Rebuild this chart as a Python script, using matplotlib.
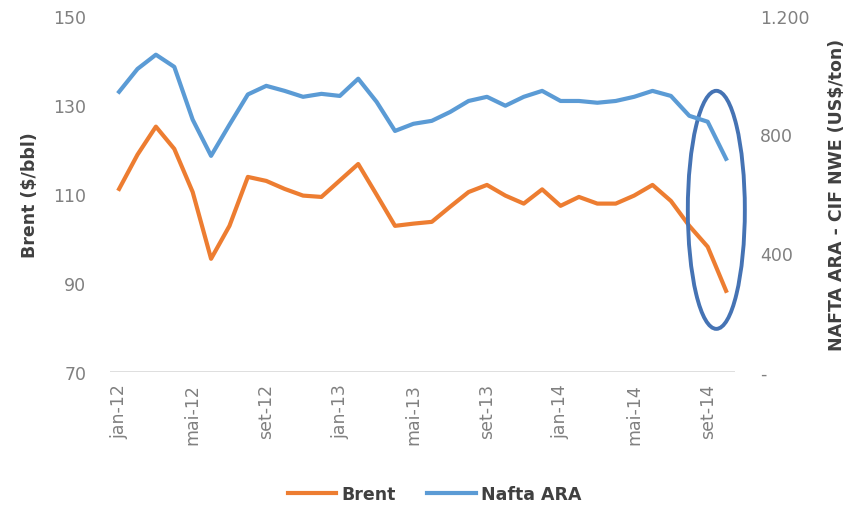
import matplotlib
matplotlib.use("Agg")
import matplotlib.pyplot as plt
from matplotlib.patches import Ellipse
from matplotlib.lines import Line2D

plt.rcParams['font.family'] = ['DejaVu Sans']

months = ['jan', 'fev', 'mar', 'abr', 'mai', 'jun', 'jul', 'ago', 'set', 'out', 'nov', 'dez']
labels = ['%s-%s' % (m, y) for y in ['12', '13', '14'] for m in months][:34]

brent = [111.1, 118.8, 125.1, 120.1, 110.4, 95.4, 102.8, 113.8, 112.9, 111.1,
         109.6, 109.3, 113.0, 116.7, 109.8, 102.8, 103.3, 103.7, 107.1, 110.4,
         112.0, 109.6, 107.8, 111.0, 107.3, 109.3, 107.8, 107.8, 109.6, 112.0,
         108.4, 102.8, 98.1, 88.2]
nafta = [944, 1021, 1069, 1028, 850, 728, 833, 935, 964, 947,
         927, 937, 930, 988, 910, 812, 836, 846, 876, 913,
         927, 897, 927, 947, 913, 913, 907, 913, 927, 947,
         930, 863, 843, 718]

left_ticks = [70, 90, 110, 130, 150]
right_ticks = [0, 400, 800, 1200]
right_labels = ['-', '400', '800', '1.200']

orange = '#ED7D31'
blue = '#5B9BD5'
tick_col = '#808080'
title_col = '#404040'

fig = plt.figure(figsize=(8.52, 5.10), dpi=100)
ax = fig.add_axes([0.129, 0.269, 0.734, 0.698])
ax2 = ax.twinx()

x = list(range(len(brent)))
ax.plot(x, brent, color=orange, lw=3, solid_joinstyle='round', zorder=3)
ax2.plot(x, nafta, color=blue, lw=3, solid_joinstyle='round', zorder=3)

ax.set_xlim(-0.5, len(brent) - 0.5)
ax.set_ylim(70, 150)
ax2.set_ylim(0, 1200)
ax.set_yticks(left_ticks)
ax2.set_yticks(right_ticks)
ax2.set_yticklabels(right_labels)
ax.set_xticks(x[::4])
ax.set_xticklabels(labels[::4], rotation=90)

for a in (ax, ax2):
    for s in a.spines.values():
        s.set_visible(False)
    a.tick_params(length=0, colors=tick_col, labelsize=12.5)
ax.tick_params(axis='y', pad=17)
ax2.tick_params(axis='y', pad=18)
ax.tick_params(axis='x', pad=8)
ax.axhline(70, color='#D9D9D9', lw=1.2, zorder=1)

ax.set_ylabel('Brent ($/bbl)', fontsize=12.5, fontweight='bold', color=title_col, labelpad=10)
ax2.set_ylabel('NAFTA ARA - CIF NWE (US$/ton)', fontsize=12.5, fontweight='bold',
               color=title_col, labelpad=13)

# highlight of the last months
ell = Ellipse((32.47, 106.4), 3.1, 53.5, fill=False, edgecolor='#4573B4', lw=2.8,
              clip_on=False, zorder=5)
ax.add_patch(ell)

handles = [Line2D([], [], color=orange, lw=3), Line2D([], [], color=blue, lw=3)]
leg = fig.legend(handles, ['Brent', 'Nafta ARA'], loc='center', bbox_to_anchor=(0.51, 0.03),
                 ncol=2, frameon=False, fontsize=12.5, handlelength=2.8, handletextpad=0.3,
                 columnspacing=1.8)
for t in leg.get_texts():
    t.set_color(title_col)
    t.set_fontweight('bold')

fig.savefig('out.png', dpi=100)
